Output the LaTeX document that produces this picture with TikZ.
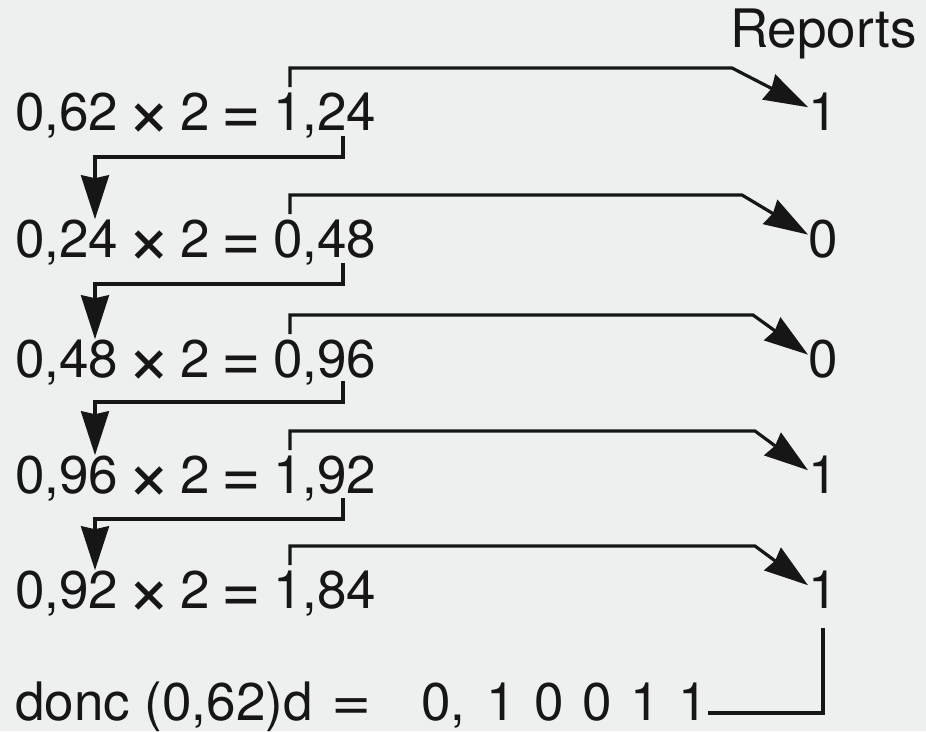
\documentclass[tikz,border=0pt]{standalone}
\usepackage{fontspec}
\setmainfont{TeX Gyre Heros}
\usetikzlibrary{arrows.meta}
\definecolor{bgc}{RGB}{238,240,240}
\definecolor{ink}{RGB}{22,22,22}
\newcommand\gp{\hspace{11.5pt}}
\newcommand\gx{\hspace{8.5pt}}
\newcommand\dsp{\hspace{0.35em}}
\newcommand\bigop[1]{\raisebox{-4pt}{\fontsize{68}{68}\selectfont #1}}
\newcommand\bigx{\raisebox{-7pt}{\fontsize{78}{78}\selectfont ×}}
\newcommand\wideq{\scalebox{1.3}[1.1]{=}}
\tikzset{
  txt/.style={font=\fontsize{53}{60}\selectfont, text=ink, inner sep=0pt, anchor=base west},
  link/.style={draw=ink, line width=3.2pt, line join=miter},
  head/.style={-{Stealth[length=44pt,width=28pt,inset=3pt]}},
}
\begin{document}
\begin{tikzpicture}[x=1pt,y=-1pt]
\fill[bgc] (0,0) rectangle (926,731);
\useasboundingbox (0,0) rectangle (926,731);

\node[txt] (rep) at (730,47) {Reports};

\node[txt] (r1) at (15,130) {0,62\gx\bigx\gx2\gp\bigop{=}\gp1,24};
\node[txt] (r2) at (15,257) {0,24\gx\bigx\gx2\gp\bigop{=}\gp0,48};
\node[txt] (r3) at (15,377) {0,48\gx\bigx\gx2\gp\bigop{=}\gp0,96};
\node[txt] (r4) at (15,493) {0,96\gx\bigx\gx2\gp\bigop{=}\gp1,92};
\node[txt] (r5) at (15,608) {0,92\gx\bigx\gx2\gp\bigop{=}\gp1,84};

\node[txt] (d1) at (808,130) {1};
\node[txt] (d2) at (808,257) {0};
\node[txt] (d3) at (808,377) {0};
\node[txt] (d4) at (808,493) {1};
\node[txt] (d5) at (808,608) {1};

\node[txt] (fin) at (15,720) {donc (0,62)d\hspace{0.35em}\wideq\hspace{49.6pt}0,\hspace{0.4em}1\dsp0\dsp0\dsp1\dsp1};

% report arrows
\coordinate (t1) at (290,87);
\coordinate (t2) at (290,214);
\coordinate (t3) at (290,334);
\coordinate (t4) at (290,450);
\coordinate (t5) at (290,565);
\draw[link,head] (t1) -- ++(0,-19) -- (732,68) -- ([yshift=4pt]d1.west);
\draw[link,head] (t2) -- ++(0,-19) -- (742,195) -- ([yshift=4pt]d2.west);
\draw[link,head] (t3) -- ++(0,-19) -- (753,315) -- ([yshift=4pt]d3.west);
\draw[link,head] (t4) -- ++(0,-19) -- (755,431) -- ([yshift=4pt]d4.west);
\draw[link,head] (t5) -- ++(0,-19) -- (755,546) -- ([yshift=4pt]d5.west);

% carry-down arrows
\coordinate (s1) at (343,136);
\coordinate (s2) at (343,263);
\coordinate (s3) at (343,381);
\coordinate (s4) at (343,498);
\draw[link,head] (s1) -- ++(0,21) -| ([xshift=80pt]r2.north west);
\draw[link,head] (s2) -- ++(0,21) -| ([xshift=80pt]r3.north west);
\draw[link,head] (s3) -- ++(0,21) -| ([xshift=80pt]r4.north west);
\draw[link,head] (s4) -- ++(0,21) -| ([xshift=80pt]r5.north west);

% final bracket
\draw[link] ([yshift=7pt]fin.base east) -| ([yshift=-20pt]d5.base);
\end{tikzpicture}
\end{document}
